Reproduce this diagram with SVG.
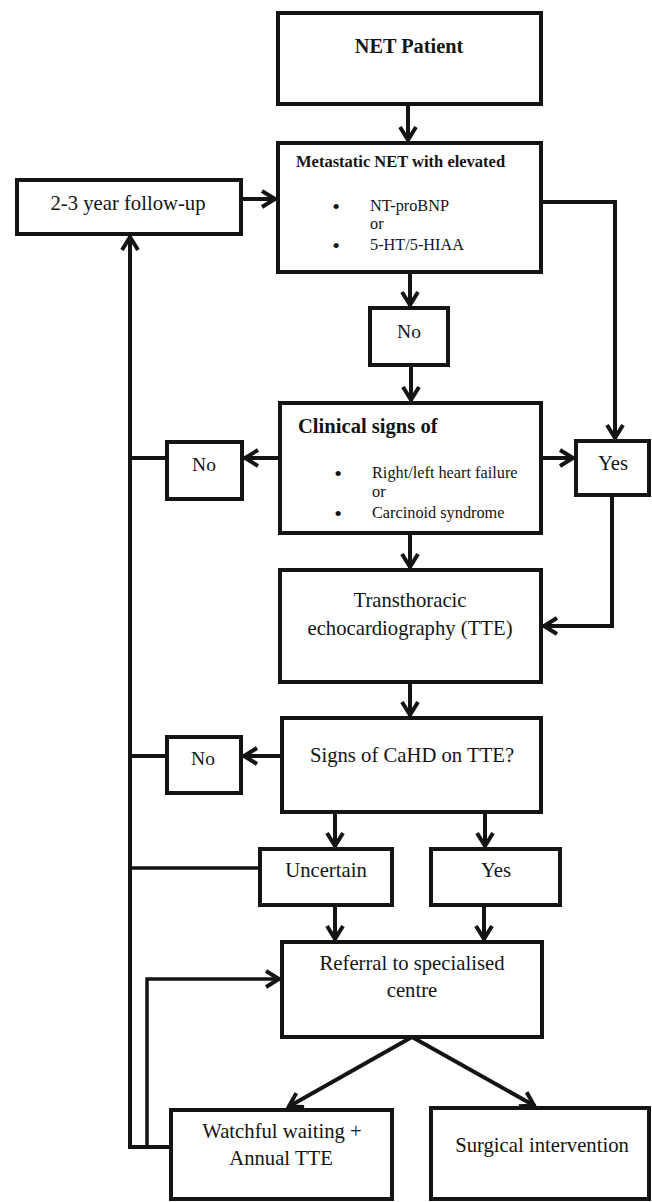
<svg xmlns="http://www.w3.org/2000/svg" width="652" height="1202" viewBox="0 0 652 1202">
<defs>
<style>
.box{fill:#fff;stroke:#141414;stroke-width:4}
.t{font-family:"Liberation Serif","Times New Roman",serif;font-size:20.7px;fill:#141414;text-anchor:middle}
.b{font-family:"Liberation Serif","Times New Roman",serif;font-weight:bold;fill:#141414}
.s{font-family:"Liberation Serif","Times New Roman",serif;font-size:16.3px;fill:#141414}
.d{font-family:"Liberation Serif","Times New Roman",serif;font-size:22px;fill:#141414;text-anchor:middle}
.c{fill:none;stroke:#141414;stroke-width:4}
.a{marker-end:url(#ah)}
</style>
<marker id="ah" markerUnits="userSpaceOnUse" markerWidth="24" markerHeight="24" viewBox="-18 -12 24 24" refX="0" refY="0" orient="auto" overflow="visible">
<path d="M-14,-8 L-1,0 L-14,8" fill="none" stroke="#141414" stroke-width="4"/>
</marker>
</defs>
<g id="connectors">
<line class="c a" x1="408" y1="104" x2="408" y2="141"/>
<line class="c a" x1="241" y1="199" x2="276" y2="199"/>
<polyline class="c a" points="541,202 615,202 615,439"/>
<line class="c a" x1="410" y1="272" x2="410" y2="306"/>
<line class="c a" x1="411" y1="365" x2="411" y2="401"/>
<line class="c a" x1="280" y1="458" x2="244" y2="458"/>
<line class="c a" x1="541" y1="458" x2="574" y2="458"/>
<line class="c" x1="167" y1="458" x2="130" y2="458"/>
<line class="c a" x1="410" y1="533" x2="410" y2="568"/>
<polyline class="c a" points="612,495 612,626 543,626"/>
<line class="c a" x1="410" y1="682" x2="410" y2="716"/>
<line class="c a" x1="282" y1="756" x2="243" y2="756"/>
<line class="c" x1="167" y1="756" x2="130" y2="756"/>
<line class="c a" x1="335" y1="812" x2="335" y2="847"/>
<line class="c a" x1="485" y1="812" x2="485" y2="847"/>
<line class="c" x1="260" y1="868" x2="130" y2="868" style="stroke-width:3.5"/>
<line class="c a" x1="335" y1="905" x2="335" y2="940"/>
<line class="c a" x1="484" y1="905" x2="484" y2="940"/>
<polyline class="c a" points="171,1147 130,1147 130,236"/>
<polyline class="c a" points="147,1147 147,979 280,979" style="stroke-width:3.5"/>
<line class="c a" x1="412" y1="1037" x2="288" y2="1107"/>
<line class="c a" x1="412" y1="1037" x2="535" y2="1106"/>
</g>
<g id="net-patient">
<rect class="box" x="278" y="13" width="263" height="91"/>
<text class="b" x="409" y="53" style="font-size:20.3px" text-anchor="middle">NET Patient</text>
</g>
<g id="metastatic">
<rect class="box" x="278" y="143" width="263" height="129"/>
<text class="b" x="296" y="167" style="font-size:16.5px">Metastatic NET with elevated</text>
<text class="d" x="336" y="214">•</text>
<text class="s" x="370" y="211">NT-proBNP</text>
<text class="s" x="370" y="229">or</text>
<text class="d" x="336" y="253">•</text>
<text class="s" x="370" y="250">5-HT/5-HIAA</text>
</g>
<g id="follow-up">
<rect class="box" x="17" y="180" width="224" height="54"/>
<text class="t" x="128" y="210">2-3 year follow-up</text>
</g>
<g id="no-1">
<rect class="box" x="370" y="308" width="78" height="57"/>
<text class="t" x="409" y="338" style="font-size:19.5px">No</text>
</g>
<g id="clinical">
<rect class="box" x="280" y="403" width="261" height="130"/>
<text class="b" x="298" y="433" style="font-size:20.6px">Clinical signs of</text>
<text class="d" x="338" y="481">•</text>
<text class="s" x="372" y="478">Right/left heart failure</text>
<text class="s" x="372" y="497">or</text>
<text class="d" x="338" y="521">•</text>
<text class="s" x="372" y="518">Carcinoid syndrome</text>
</g>
<g id="no-2">
<rect class="box" x="167" y="442" width="75" height="57"/>
<text class="t" x="204" y="471" style="font-size:19.5px">No</text>
</g>
<g id="yes-1">
<rect class="box" x="576" y="441" width="73" height="54"/>
<text class="t" x="613" y="470">Yes</text>
</g>
<g id="tte">
<rect class="box" x="280" y="570" width="261" height="112"/>
<text class="t" x="410" y="607">Transthoracic</text>
<text class="t" x="410" y="635">echocardiography (TTE)</text>
</g>
<g id="signs">
<rect class="box" x="282" y="718" width="259" height="94"/>
<text class="t" x="412" y="762">Signs of CaHD on TTE?</text>
</g>
<g id="no-3">
<rect class="box" x="167" y="737" width="74" height="56"/>
<text class="t" x="203" y="765" style="font-size:19.5px">No</text>
</g>
<g id="uncertain">
<rect class="box" x="260" y="849" width="132" height="56"/>
<text class="t" x="326" y="877">Uncertain</text>
</g>
<g id="yes-2">
<rect class="box" x="431" y="849" width="129" height="56"/>
<text class="t" x="496" y="877">Yes</text>
</g>
<g id="referral">
<rect class="box" x="282" y="942" width="260" height="95"/>
<text class="t" x="412" y="970">Referral to specialised</text>
<text class="t" x="412" y="997">centre</text>
</g>
<g id="watchful">
<rect class="box" x="171" y="1110" width="221" height="89"/>
<text class="t" x="282" y="1138">Watchful waiting +</text>
<text class="t" x="281" y="1165">Annual TTE</text>
</g>
<g id="surgical">
<rect class="box" x="431" y="1108" width="218" height="91"/>
<text class="t" x="542" y="1152">Surgical intervention</text>
</g>
</svg>
